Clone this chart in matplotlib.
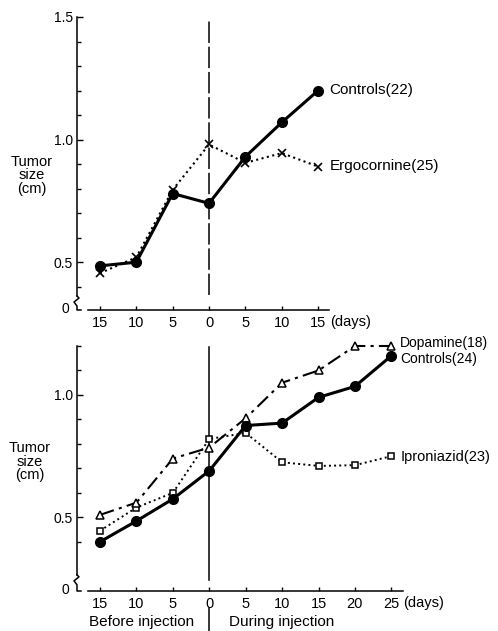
import matplotlib
matplotlib.use("Agg")
import matplotlib.pyplot as plt
import matplotlib.transforms as mtransforms
from matplotlib.lines import Line2D

plt.rcParams['font.family'] = ['Liberation Sans', 'DejaVu Sans']

# данные
days_top = [-15, -10, -5, 0, 5, 10, 15]
controls_top = [0.485, 0.50, 0.78, 0.74, 0.93, 1.07, 1.20]
ergocornine = [0.455, 0.52, 0.795, 0.98, 0.905, 0.945, 0.89]

days_bottom = [-15, -10, -5, 0, 5, 10, 15, 20, 25]
controls_bottom = [0.40, 0.485, 0.575, 0.69, 0.875, 0.885, 0.99, 1.035, 1.16]
dopamine = [0.51, 0.56, 0.74, 0.785, 0.905, 1.05, 1.10, 1.20, 1.20]
iproniazid = [0.445, 0.54, 0.60, 0.82, 0.845, 0.725, 0.71, 0.713, 0.75]

top_labels = ['15', '10', '5', '0', '5', '10', '15']
bottom_labels = ['15', '10', '5', '0', '5', '10', '15', '20', '25']

W, H = 498, 631
fig = plt.figure(figsize=(W / 100, H / 100), dpi=100)


def rect(left, right, top, bottom):
    return [left / W, 1 - bottom / H, (right - left) / W, (bottom - top) / H]


def style_axes(ax, ylo, yhi, yticks, brk, x0):
    ax.spines['top'].set_visible(False)
    ax.spines['right'].set_visible(False)
    for s in ['left', 'bottom']:
        ax.spines[s].set_linewidth(1.1)
    ax.spines['left'].set_bounds(brk, yhi)
    ax.spines['bottom'].set_bounds(x0, ax.get_xlim()[1])
    ax.set_yticks(yticks)
    ax.set_yticklabels(['%.1f' % v for v in yticks], fontsize=10)
    ax.set_yticks([v / 10 for v in range(4, int(yhi * 10) + 1)], minor=True)
    ax.tick_params(axis='y', which='major', direction='in', length=4, width=1, pad=3)
    ax.tick_params(axis='y', which='minor', direction='in', length=3, width=1)
    ax.tick_params(axis='x', direction='in', length=3, width=1, pad=4, labelsize=10.5)

    # разрыв оси
    axw = ax.get_position().width * W
    px = 1.0 / axw
    sc = (yhi - ylo) / (ax.get_position().height * H)
    tr = mtransforms.blended_transform_factory(ax.transAxes, ax.transData)
    zx = [0, 2 * px, -3 * px, 0, 0, 4 * px]
    zy = [brk, brk - 2 * sc, brk - 6 * sc, brk - 10 * sc, ylo, ylo]
    ax.add_line(Line2D(zx, zy, transform=tr, color='k', lw=1.1, clip_on=False))
    ax.text(-12 * px, ylo + 1 * sc, '0', transform=tr, ha='center', va='center', fontsize=10)


# ---- верхний график
ax1 = fig.add_axes(rect(77, 329, 17, 310))
ax1.set_xlim(-18.16, 16.5)
ax1.set_ylim(0.305, 1.5)
style_axes(ax1, 0.305, 1.5, [0.5, 1.0, 1.5], 0.362, -16.65)
ax1.set_xticks(days_top)
ax1.set_xticklabels(top_labels)

ax1.axvline(0, ymin=0.051, ymax=0.99, color='k', lw=1.1, dashes=(14, 2.5))
ax1.plot(days_top, ergocornine, color='k', lw=1.5, ls=':', marker='x', ms=6, mew=1.2,
         clip_on=False)
ax1.plot(days_top, controls_top, color='k', lw=2.2, marker='o', ms=7, clip_on=False)

ax1.annotate('Controls(22)', xy=(days_top[-1], controls_top[-1]), xytext=(11, 1),
             textcoords='offset pixels', ha='left', va='center', fontsize=11)
ax1.annotate('Ergocornine(25)', xy=(days_top[-1], ergocornine[-1]), xytext=(12, 1),
             textcoords='offset pixels', ha='left', va='center', fontsize=11)
ax1.annotate('(days)', xy=(days_top[-1], 0), xycoords=('data', 'axes fraction'),
             xytext=(12, -12), textcoords='offset pixels', ha='left', va='center', fontsize=10.5)
ax1.text(-0.18, 0.46, 'Tumor\nsize\n(cm)', transform=ax1.transAxes, ha='center', va='center',
         fontsize=10.5, linespacing=0.95)

# ---- нижний график
ax2 = fig.add_axes(rect(77, 403, 346, 591))
ax2.set_xlim(-18.16, 26.6)
ax2.set_ylim(0.199, 1.2)
style_axes(ax2, 0.199, 1.2, [0.5, 1.0], 0.265, -16.65)
ax2.set_xticks(days_bottom)
ax2.set_xticklabels(bottom_labels)

ax2.axvline(0, ymin=0.046, ymax=0.997, color='k', lw=1.1)
ax2.plot(days_bottom, iproniazid, color='k', lw=1.4, ls=':', marker='s', ms=5,
         mfc='white', mew=1.1, clip_on=False)
ax2.plot(days_bottom, dopamine, color='k', lw=1.5, ls=(0, (7, 2.5, 1.5, 2.5)), marker='^',
         ms=5.5, mfc='white', mew=1.1, clip_on=False)
ax2.plot(days_bottom, controls_bottom, color='k', lw=2.2, marker='o', ms=7, clip_on=False)

ax2.annotate('Dopamine(18)', xy=(days_bottom[-1], dopamine[-1]), xytext=(9, 3),
             textcoords='offset pixels', ha='left', va='center', fontsize=10)
ax2.annotate('Controls(24)', xy=(days_bottom[-1], controls_bottom[-1]), xytext=(9, -3),
             textcoords='offset pixels', ha='left', va='center', fontsize=10)
ax2.annotate('Iproniazid(23)', xy=(days_bottom[-1], iproniazid[-1]), xytext=(9, -1),
             textcoords='offset pixels', ha='left', va='center', fontsize=10.5)
ax2.annotate('(days)', xy=(days_bottom[-1], 0), xycoords=('data', 'axes fraction'),
             xytext=(12, -12), textcoords='offset pixels', ha='left', va='center', fontsize=10.5)
ax2.text(-0.144, 0.527, 'Tumor\nsize\n(cm)', transform=ax2.transAxes, ha='center', va='center',
         fontsize=10.5, linespacing=0.95)

tr2 = mtransforms.blended_transform_factory(ax2.transData, ax2.transAxes)
ax2.add_line(Line2D([0, 0], [-0.07, -0.165], transform=tr2, color='k', lw=1.1, clip_on=False))
ax2.text(-9.3, -0.127, 'Before injection', transform=tr2, ha='center', va='center', fontsize=11)
ax2.text(10, -0.127, 'During injection', transform=tr2, ha='center', va='center', fontsize=11)

fig.savefig('out.png', dpi=100)
